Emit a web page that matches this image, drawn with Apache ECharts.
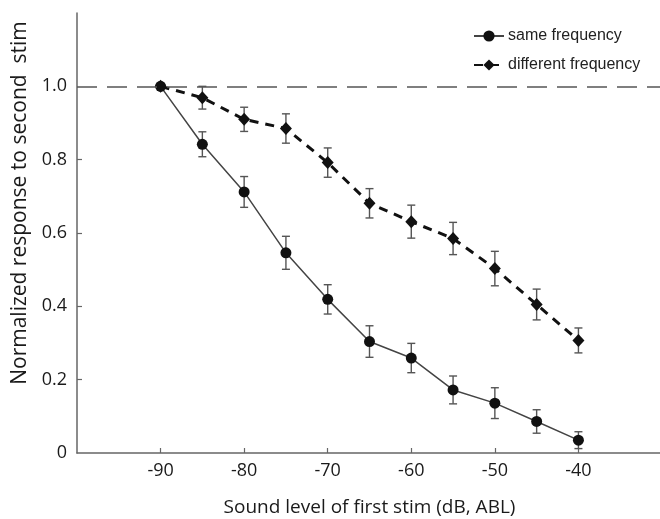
<!DOCTYPE html>
<html>
<head>
<meta charset="utf-8">
<script src="https://cdn.jsdelivr.net/npm/echarts@6/dist/echarts.min.js"></script>
<style>
html,body{margin:0;padding:0;background:#fff;}
#chart{width:660px;height:519px;}
</style>
</head>
<body>
<div id="chart"></div>
<script>
// Data
const levels = [-90, -85, -80, -75, -70, -65, -60, -55, -50, -45, -40];
const sameFreq = [1.0, 0.842, 0.712, 0.546, 0.419, 0.304, 0.259, 0.172, 0.136, 0.086, 0.035];
const sameFreqErr = [0, 0.034, 0.042, 0.045, 0.040, 0.043, 0.040, 0.038, 0.042, 0.032, 0.023];
const diffFreq = [1.0, 0.969, 0.910, 0.885, 0.792, 0.681, 0.631, 0.585, 0.503, 0.405, 0.307];
const diffFreqErr = [0, 0.031, 0.033, 0.040, 0.040, 0.040, 0.045, 0.044, 0.047, 0.042, 0.034];
const xTickLabels = [-90, -80, -70, -60, -50, -40];
const yTickLabels = [0, 0.2, 0.4, 0.6, 0.8, 1.0];
const referenceLevel = 1.0;

const chart = echarts.init(document.getElementById('chart'), null, {renderer: 'canvas'});
const font = '"Open Sans", sans-serif';

function errData(vals, errs) {
  return levels.map((x, i) => [x, vals[i] - errs[i], vals[i] + errs[i]]).filter((d, i) => errs[i] > 0);
}
function errRender(params, api) {
  const x = api.value(0);
  const lo = api.coord([x, api.value(1)]);
  const hi = api.coord([x, api.value(2)]);
  const w = 4;
  const style = {stroke: '#555', lineWidth: 1.4, fill: null};
  return {
    type: 'group',
    children: [
      {type: 'line', shape: {x1: lo[0], y1: lo[1], x2: hi[0], y2: hi[1]}, style},
      {type: 'line', shape: {x1: lo[0] - w, y1: lo[1], x2: lo[0] + w, y2: lo[1]}, style},
      {type: 'line', shape: {x1: hi[0] - w, y1: hi[1], x2: hi[0] + w, y2: hi[1]}, style}
    ]
  };
}

const option = {
  animation: false,
  backgroundColor: '#fff',
  grid: {left: 77, top: 13, right: -2, bottom: 66, outerBoundsMode: 'none', containLabel: false},
  legend: {
    orient: 'vertical',
    left: 473,
    top: 28,
    padding: 0,
    itemWidth: 30,
    itemHeight: 14,
    itemGap: 13,
    textStyle: {fontFamily: '"Liberation Sans", Arial, sans-serif', fontSize: 16, lineHeight: 16, color: '#222', padding: [0, 0, 0, -1]},
    data: ['same frequency', 'different frequency']
  },
  xAxis: {
    type: 'value',
    min: -100,
    max: -30,
    interval: 10,
    name: 'Sound level of first stim (dB, ABL)',
    nameLocation: 'middle',
    nameGap: 45,
    nameTextStyle: {fontFamily: font, fontSize: 19, color: '#1a1a1a'},
    axisLine: {show: true, lineStyle: {color: '#666', width: 1.5}},
    axisTick: {show: true, inside: true, length: 5, lineStyle: {color: '#666', width: 1.2}, customValues: xTickLabels},
    axisLabel: {fontFamily: font, fontSize: 18, color: '#1a1a1a', margin: 9, customValues: xTickLabels},
    splitLine: {show: false}
  },
  yAxis: {
    type: 'value',
    min: 0,
    max: 1.2,
    interval: 0.2,
    name: 'Normalized response to second  stim',
    nameLocation: 'middle',
    nameGap: 39,
    nameTextStyle: {fontFamily: font, fontSize: 21, color: '#1a1a1a', padding: [0, 0, 0, 60]},
    axisLine: {show: true, lineStyle: {color: '#666', width: 1.5}},
    axisTick: {show: true, inside: true, length: 5, lineStyle: {color: '#666', width: 1.2}, customValues: yTickLabels.slice(1, 5)},
    axisLabel: {
      fontFamily: font, fontSize: 18, color: '#1a1a1a', margin: 10,
      customValues: yTickLabels,
      formatter: v => (v === 0 ? '0' : v.toFixed(1))
    },
    splitLine: {show: false}
  },
  series: [
    {
      name: 'ref',
      type: 'line',
      data: [],
      silent: true,
      markLine: {
        silent: true,
        symbol: ['none', 'none'],
        label: {show: false},
        lineStyle: {color: '#555', width: 1.5, type: [20, 10]},
        data: [{yAxis: referenceLevel}]
      },
      z: 1
    },
    {
      type: 'custom',
      name: 'errSame',
      renderItem: errRender,
      data: errData(sameFreq, sameFreqErr),
      z: 2,
      silent: true
    },
    {
      type: 'custom',
      name: 'errDiff',
      renderItem: errRender,
      data: errData(diffFreq, diffFreqErr),
      z: 2,
      silent: true
    },
    {
      name: 'same frequency',
      type: 'line',
      data: levels.map((x, i) => [x, sameFreq[i]]),
      symbol: 'circle',
      symbolSize: 11,
      showAllSymbol: true,
      lineStyle: {color: '#444', width: 1.5},
      itemStyle: {color: '#111'},
      z: 3
    },
    {
      name: 'different frequency',
      type: 'line',
      data: levels.map((x, i) => [x, diffFreq[i]]),
      symbol: 'diamond',
      symbolSize: [12, 13],
      showAllSymbol: true,
      lineStyle: {color: '#111', width: 3, type: [9, 7]},
      itemStyle: {color: '#111'},
      z: 4
    }
  ]
};
chart.setOption(option);
</script>
</body>
</html>
